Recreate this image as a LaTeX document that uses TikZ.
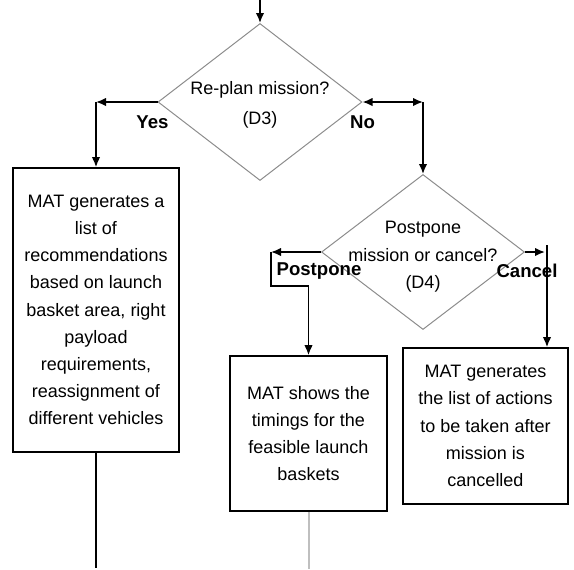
\documentclass[tikz,border=0pt]{standalone}
\usepackage{fontspec}
\setmainfont{Liberation Sans}
\usetikzlibrary{shapes.geometric, arrows.meta, positioning, calc}
\tikzset{
  proc/.style={rectangle, draw=black, line width=0.8pt, inner sep=0pt,
               align=center, font=\fontsize{9}{13.6}\selectfont},
  dec/.style={diamond, draw=black!45, line width=0.5pt, inner sep=0pt},
  dtxt/.style={align=center, inner sep=0pt, font=\fontsize{9}{14}\selectfont},
  fl/.style={-{Latex[length=5pt,width=4.2pt]}, draw=black, line width=0.8pt},
  lbl/.style={font=\fontsize{9.3}{10}\selectfont\bfseries, inner sep=0pt}
}
\begin{document}
\begin{tikzpicture}[x=0.5pt, y=-0.5pt]
\useasboundingbox (0,0) rectangle (574,569);
\coordinate (top) at (260,0);
\node[dec, minimum width=102pt, minimum height=78.5pt] (d3) at (260,102) {};
\node[dtxt, font=\fontsize{9}{15}\selectfont] (d3t) at (260,105) {Re-plan mission?\\(D3)};
\node[dec, minimum width=101.5pt, minimum height=77.5pt] (d4) at (423,252) {};
\node[dtxt, font=\fontsize{9}{13.75}\selectfont] (d4t) at (423,257) {Postpone\\mission or cancel?\\(D4)};
\node[proc, minimum width=83pt, minimum height=142pt] (recL) at (96,310)
  {MAT generates a\\list of\\recommendations\\based on launch\\basket area, right\\payload\\requirements,\\reassignment of\\different vehicles};
\node[proc, minimum width=78.5pt, minimum height=77.5pt] (recP) at (308.5,433.5)
  {MAT shows the\\timings for the\\feasible launch\\baskets};
\node[proc, minimum width=82.5pt, minimum height=78pt] (recC) at (485.5,426)
  {MAT generates\\the list of actions\\to be taken after\\mission is\\cancelled};
% corners of the connectors
\coordinate (yc) at (d3.west -| recL.north);
\coordinate (nc) at (d3.east -| d4.north);
\coordinate (pc) at ($(d4.west)+(-50,0)$);
\coordinate (cc) at ($(d4.east)+(20,0)$);
\coordinate (ct) at ($(d4.east)+(22,-7)$);
\coordinate (endL) at (recL.south |- 0,568);
\coordinate (endP) at (recP.south |- 0,569);
\draw[fl] (top) -- (d3.north);
\draw[fl] (d3.west) -- (yc);
\draw[fl] (yc) -- (recL.north);
\draw[fl, {Latex[length=5pt,width=4.2pt]}-{Latex[length=5pt,width=4.2pt]}] (d3.east) -- (nc);
\draw[fl] (nc) -- (d4.north);
\draw[fl] (d4.west) -- (pc);
\draw[fl] (pc) -- ++(0,34) -| (recP.north);
\draw[fl] (d4.east) -- (cc);
\draw[fl] (ct) -- (ct |- recC.north);
\draw[black, line width=0.8pt] (recL.south) -- (endL);
\draw[black!25, line width=1pt] (recP.south) -- (endP);
\node[lbl] (ly) at ($(d3.west)+(-5,20)$) {Yes};
\node[lbl] (ln) at ($(d3.east)+(0,20)$) {No};
\node[lbl] (lp) at ($(d4.west)+(-2,19)$) {Postpone};
\node[lbl] (lc) at ($(d4.east)+(2,19)$) {Cancel};
\end{tikzpicture}
\end{document}
